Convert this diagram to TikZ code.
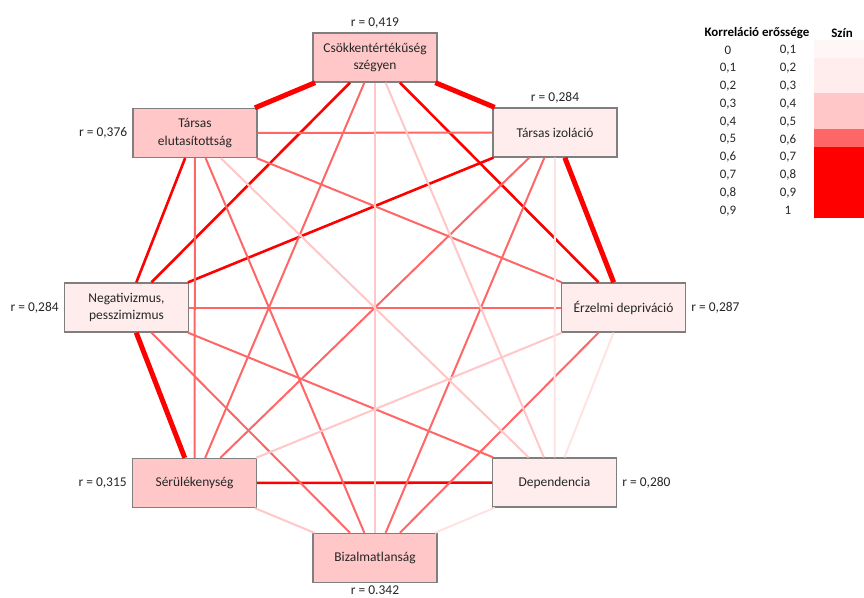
\documentclass[tikz,border=0pt]{standalone}
\usepackage{fontspec}
\setmainfont{Carlito}
\usetikzlibrary{positioning}
\definecolor{corrred}{HTML}{FF0000}
\definecolor{corrsalmon}{HTML}{FF6666}
\definecolor{corrpink}{HTML}{FFC7C7}
\definecolor{corrlight}{HTML}{FFEDED}
\definecolor{corrfaint}{HTML}{FFF7F7}
\definecolor{linefaint}{HTML}{FFE3E3}
\definecolor{boxgray}{HTML}{7F7F7F}
\definecolor{txtgray}{HTML}{262626}
\tikzset{
  factor/.style    = {draw=boxgray, line width=1.3bp, minimum width=124bp,
                      minimum height=49bp, inner sep=2bp, align=center,
                      text=txtgray},
  strongfac/.style = {factor, fill=corrpink},
  weakfac/.style   = {factor, fill=corrlight},
  rlab/.style      = {inner sep=1bp, text=txtgray},
  legtitle/.style  = {font=\fontsize{13}{15}\selectfont\bfseries, inner sep=1bp},
  legnum/.style    = {font=\fontsize{13}{15}\selectfont, inner sep=1bp, text=txtgray},
  thickline/.style = {line width=5bp, corrred},
  redline/.style   = {line width=2.6bp, corrred},
  midline/.style   = {line width=2bp, corrsalmon},
  pinkline/.style  = {line width=2bp, corrpink},
  paleline/.style  = {line width=2bp, linefaint},
}

\begin{document}
\begin{tikzpicture}[x=1bp, y=-1bp,
  node distance = 3bp and 4bp,
  every node/.style = {font=\fontsize{13.5}{17.5}\selectfont}]
  \useasboundingbox (0,0) rectangle (864,598);

  % factors on the octagon
  \node[strongfac] (csok) at (375,57.5)  {Csökkentértékűség\\szégyen};
  \node[weakfac]   (izol) at (555,132.5) {Társas izoláció};
  \node[weakfac]   (erz)  at (623.5,307.5) {Érzelmi depriváció};
  \node[weakfac]   (dep)  at (554.5,482.5) {Dependencia};
  \node[strongfac] (biz)  at (375,558)   {Bizalmatlanság};
  \node[strongfac] (ser)  at (194.5,483) {Sérülékenység};
  \node[weakfac]   (neg)  at (126.5,307.5) {Negativizmus,\\pesszimizmus};
  \node[strongfac] (elut) at (195,133)   {Társas\\elutasítottság};

  % r values
  \node[rlab, above=of csok] (rcsok) {r = 0,419};
  \node[rlab, above=of izol] (rizol) {r = 0,284};
  \node[rlab, right=of erz]  (rerz)  {r = 0,287};
  \node[rlab, right=of dep]  (rdep)  {r = 0,280};
  \node[rlab, below=1bp of biz] (rbiz) {r = 0.342};
  \node[rlab, left=of ser]   (rser)  {r = 0,315};
  \node[rlab, left=of neg]   (rneg)  {r = 0,284};
  \node[rlab, left=of elut]  (relut) {r = 0,376};

  % correlations
  \foreach \a/\b in {csok/izol, csok/elut, izol/erz, ser/neg}
    \draw[thickline] (\a) -- (\b);
  \foreach \a/\b in {neg/elut, csok/erz, csok/neg, dep/ser, neg/izol}
    \draw[redline] (\a) -- (\b);
  \foreach \a/\b in {elut/izol, erz/biz, biz/neg, ser/elut, izol/biz, dep/neg,
                     biz/elut, ser/csok, elut/erz, izol/ser, erz/neg}
    \draw[midline] (\a) -- (\b);
  \foreach \a/\b in {csok/dep, erz/ser, csok/biz, dep/elut, biz/ser}
    \draw[pinkline] (\a) -- (\b);
  \foreach \a/\b in {erz/dep, izol/dep, dep/biz}
    \draw[paleline] (\a) -- (\b);

  % legend
  \node[legtitle] (kortitle) at (757,33) {Korreláció erőssége};
  \node[legtitle] (szintitle) at (842,33) {Szín};
  \foreach \lo/\hi [count=\i] in {0/{0,1}, {0,1}/{0,2}, {0,2}/{0,3}, {0,3}/{0,4},
      {0,4}/{0,5}, {0,5}/{0,6}, {0,6}/{0,7}, {0,7}/{0,8}, {0,8}/{0,9}, {0,9}/1} {
    \node[legnum] (lo\i) at (728,{32.7+17.8*\i}) {\lo};
    \node[legnum] (hi\i) at (788,{32.7+17.8*\i}) {\hi};
  }
  \fill[corrfaint]  (814,40)  rectangle (864,58);
  \fill[corrlight]  (814,58)  rectangle (864,93);
  \fill[corrpink]   (814,93)  rectangle (864,129);
  \fill[corrsalmon] (814,129) rectangle (864,147);
  \fill[corrred]    (814,147) rectangle (864,218);
\end{tikzpicture}
\end{document}
